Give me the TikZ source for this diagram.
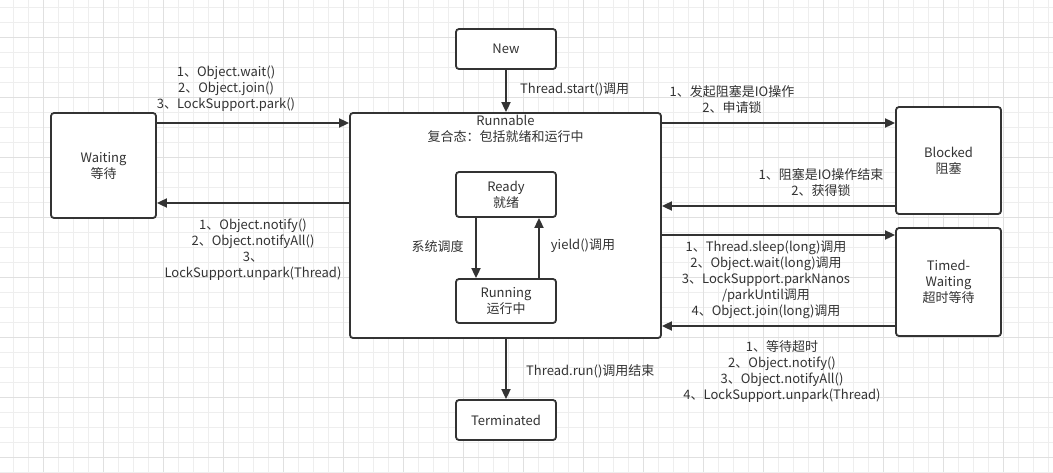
\documentclass[tikz,border=0pt]{standalone}
\usepackage{fontspec}
\setmainfont{Noto Sans CJK SC}
\usetikzlibrary{arrows.meta}
\definecolor{linec}{HTML}{333333}
\definecolor{gridminor}{HTML}{EEEEEE}
\definecolor{gridmajor}{HTML}{E0E0E0}
\tikzset{
  state/.style={draw=linec, line width=1.8pt, rounded corners=3pt, fill=white,
    align=center, inner sep=0pt, text=linec, font=\fontsize{13}{16}\selectfont},
  arr/.style={draw=linec, line width=1.8pt, -{Triangle[length=10pt,width=9pt]}},
  lbl/.style={align=center, inner sep=0pt, text=linec, font=\fontsize{13}{16}\selectfont},
}
\begin{document}
\begin{tikzpicture}[x=1pt,y=-1pt]
    \useasboundingbox (0,0) rectangle (1053,472);
    \fill[white] (0,0) rectangle (1053,472);
    % background grid
    \foreach \k in {0,...,69}
      \draw[gridminor, line width=1pt] (13.3+15*\k,0) -- (13.3+15*\k,472);
    \foreach \k in {0,...,31}
      \draw[gridminor, line width=1pt] (0,7.3+15*\k) -- (1053,7.3+15*\k);
    \foreach \k in {0,...,16}
      \draw[gridmajor, line width=1pt] (43.3+60*\k,0) -- (43.3+60*\k,472);
    \foreach \k in {0,...,7}
      \draw[gridmajor, line width=1pt] (0,37.3+60*\k) -- (1053,37.3+60*\k);

    \node[state, minimum width=100pt, minimum height=40pt]  (new)        at (506,   49)    {New};
    \node[state, minimum width=311pt, minimum height=225pt] (runnable)   at (505.5, 225.5) {};
    \node[lbl]                                              (runtitle)   at (505.5, 129)   {Runnable\\复合态：包括就绪和运行中};
    \node[state, minimum width=100pt, minimum height=45pt]  (ready)      at (506,   194.5) {Ready\\就绪};
    \node[state, minimum width=100pt, minimum height=44pt]  (running)    at (506,   301)   {Running\\运行中};
    \node[state, minimum width=100pt, minimum height=40pt]  (terminated) at (506,   420)   {Terminated};
    \node[state, minimum width=105pt, minimum height=105pt] (waiting)    at (103.5, 165.5) {Waiting\\等待};
    \node[state, minimum width=105pt, minimum height=107pt] (blocked)    at (948.5, 160.5) {Blocked\\阻塞};
    \node[state, minimum width=105pt, minimum height=108pt] (timed)      at (948.5, 282)   {Timed-\\Waiting\\超时等待};

    \draw[arr] (new.south) -- (new.south |- runnable.north);
    \draw[arr] (terminated.north |- runnable.south) -- (terminated.north);
    \draw[arr] ([xshift=-30pt]ready.south) -- ([xshift=-30pt]running.north);
    \draw[arr] ([xshift=33pt]running.north) -- ([xshift=33pt]ready.south);
    \draw[arr] (waiting.east |- 0,123) -- (runnable.west |- 0,123);
    \draw[arr] (runnable.west |- 0,203) -- (waiting.east |- 0,203);
    \draw[arr] (runnable.east |- 0,123) -- (blocked.west |- 0,123);
    \draw[arr] (blocked.west |- 0,206) -- (runnable.east |- 0,206);
    \draw[arr] (runnable.east |- 0,235) -- (timed.west |- 0,235);
    \draw[arr] (timed.west |- 0,326) -- (runnable.east |- 0,326);

    \node[lbl, anchor=west] (lstart)   at (520, 89)  {Thread.start()调用};
    \node[lbl, anchor=west] (lrun)     at (526, 371) {Thread.run()调用结束};
    \node[lbl]              (lsched)   at (437.5, 247) {系统调度};
    \node[lbl]              (lyield)   at (583, 246) {yield()调用};
    \node[lbl]              (lwaitin)  at (226, 89)  {1、Object.wait()\\2、Object.join()\\3、LockSupport.park()};
    \node[lbl]              (lwaitout) at (253, 250) {1、Object.notify()\\2、Object.notifyAll()\\3、\\LockSupport.unpark(Thread)};
    \node[lbl]              (lblkin)   at (732, 100) {1、发起阻塞是IO操作\\2、申请锁};
    \node[lbl]              (lblkout)  at (821, 183) {1、阻塞是IO操作结束\\2、获得锁};
    \node[lbl]              (ltimein)  at (766, 280) {1、Thread.sleep(long)调用\\2、Object.wait(long)调用\\3、LockSupport.parkNanos\\/parkUntil调用\\4、Object.join(long)调用};
    \node[lbl]              (ltimeout) at (782, 371) {1、等待超时\\2、Object.notify()\\3、Object.notifyAll()\\4、LockSupport.unpark(Thread)};

  \end{tikzpicture}
\end{document}
